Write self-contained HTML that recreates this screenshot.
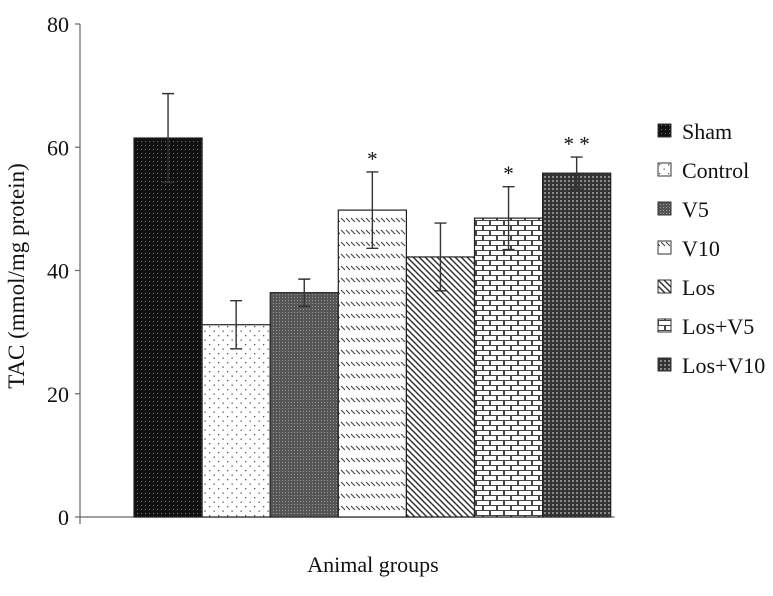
<!DOCTYPE html>
<html><head><meta charset="utf-8">
<style>
body{margin:0;background:#fff;}
svg text{font-family:"Liberation Serif","DejaVu Serif",serif;fill:#111;}
</style></head>
<body>
<svg id="chart" width="773" height="591" viewBox="0 0 773 591" xmlns="http://www.w3.org/2000/svg">
<defs>
  <pattern id="p0" width="4" height="4" patternUnits="userSpaceOnUse"><rect width="4" height="4" fill="#111"/><rect x="1" y="1" width="1" height="1" fill="#777"/></pattern>
  <pattern id="p1" width="9" height="9" patternUnits="userSpaceOnUse"><rect width="9" height="9" fill="#fff"/><rect x="2" y="2" width="1.3" height="1.3" fill="#555"/><rect x="6.5" y="6.5" width="1.3" height="1.3" fill="#555"/></pattern>
  <pattern id="p2" width="3" height="3" patternUnits="userSpaceOnUse"><rect width="3" height="3" fill="#555"/><rect x="0" y="0" width="1" height="1" fill="#999"/></pattern>
  <pattern id="p3" width="10" height="12" patternUnits="userSpaceOnUse"><rect width="10" height="12" fill="#fff"/><path d="M1 2 L5 6 M6 2 L10 6" stroke="#444" stroke-width="1.1"/></pattern>
  <pattern id="p4" width="6" height="6" patternUnits="userSpaceOnUse"><rect width="6" height="6" fill="#fff"/><path d="M-1 -1 L7 7 M-1 5 L1 7 M5 -1 L7 1" stroke="#333" stroke-width="1.5"/></pattern>
  <pattern id="p5" width="14" height="10" patternUnits="userSpaceOnUse"><rect width="14" height="10" fill="#444"/><rect x="1" y="1" width="12" height="4" fill="#fff"/><rect x="-6" y="6" width="12" height="4" fill="#fff"/><rect x="8" y="6" width="12" height="4" fill="#fff"/></pattern>
  <pattern id="p6" width="4" height="4" patternUnits="userSpaceOnUse"><rect width="4" height="4" fill="#333"/><rect x="0" y="0" width="2" height="2" fill="#888"/></pattern>
</defs>
<g id="axes"></g>
<g id="bars"></g>
<g id="legend"></g>
<text x="0" y="0" font-size="23" text-anchor="middle" transform="translate(24,276) rotate(-90)">TAC (mmol/mg protein)</text>
<text x="373" y="572" font-size="22" text-anchor="middle">Animal groups</text>
</svg>
<script>
const categories=["Sham","Control","V5","V10","Los","Los+V5","Los+V10"];
const values=[61.5,31.2,36.4,49.8,42.2,48.5,55.8];
const errors=[7.2,3.9,2.2,6.2,5.5,5.1,2.6];
const marks=["","","","*","","*","* *"];
const yTicks=[0,20,40,60,80];
const NS="http://www.w3.org/2000/svg";
const y0=517,y80=24,xStart=134,bw=68.1;
function yS(v){return y0-(v/80)*(y0-y80);}
function xS(i){return xStart+i*bw;}
function mk(t,a,p){const e=document.createElementNS(NS,t);for(const k in a)e.setAttribute(k,a[k]);p.appendChild(e);return e;}
const axes=document.getElementById('axes');
let l=mk('line',{x1:80,y1:y80,x2:80,y2:y0+7,stroke:'#666','stroke-width':1.2},axes);


l=mk('line',{x1:80,y1:y0,x2:xS(7)+4,y2:y0,stroke:'#666','stroke-width':1.2},axes);


yTicks.forEach(t=>{
  const tk=mk('line',{x1:75,y1:yS(t),x2:80,y2:yS(t),stroke:'#666','stroke-width':1.2},axes);
  
  
  const tx=mk('text',{x:69,y:yS(t)+8,'font-size':22,'text-anchor':'end'},axes);
  tx.textContent=t;
  
  
});
const bars=document.getElementById('bars');
values.forEach((v,i)=>{
  const x=xS(i),y=yS(v);
  const r=mk('rect',{x:x,y:y,width:bw,height:y0-y,fill:'url(#p'+i+')',stroke:'#222','stroke-width':1.2},bars);
  
  
  const cx=x+bw/2,et=yS(v+errors[i]),eb=yS(v-errors[i]);
  const e=mk('path',{d:`M${cx} ${et} V${eb} M${cx-6} ${et} H${cx+6} M${cx-6} ${eb} H${cx+6}`,stroke:'#333','stroke-width':1.4,fill:'none'},bars);
  
  
  if(marks[i]){
    const s=mk('text',{x:cx,y:et-6,'font-size':21,'text-anchor':'middle'},bars);
    s.textContent=marks[i];
    
    
  }
});
const lg=document.getElementById('legend');
categories.forEach((c,i)=>{
  const cy=131+i*39;
  const g=mk('g',{},lg);
  
  
  mk('rect',{x:658,y:cy-7,width:13,height:13,fill:'url(#p'+i+')',stroke:'#333','stroke-width':1},g);
  const t=mk('text',{x:682,y:cy+8,'font-size':22},g);
  t.textContent=c;
});
</script>
</body></html>
